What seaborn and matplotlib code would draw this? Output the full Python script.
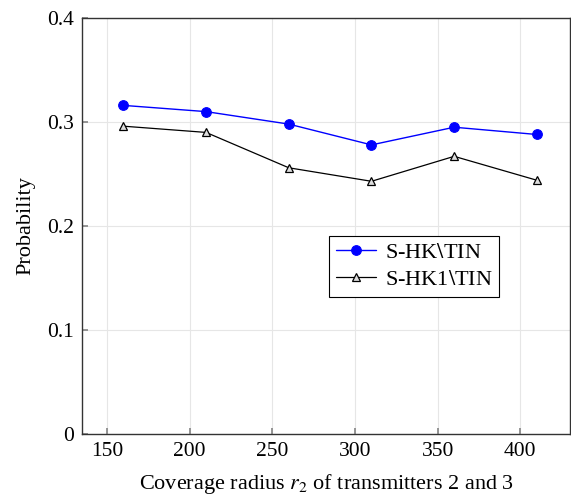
import matplotlib
matplotlib.use("Agg")
import matplotlib.pyplot as plt
import seaborn as sns
import pandas as pd

sns.set_theme(style="ticks")
plt.rcParams['font.family'] = ['Liberation Serif', 'DejaVu Serif']
plt.rcParams['mathtext.fontset'] = 'stix'

radius = [160, 210, 260, 310, 360, 410]
prob_shk = [0.316, 0.310, 0.298, 0.278, 0.295, 0.288]
prob_shk1 = [0.296, 0.290, 0.256, 0.243, 0.267, 0.244]
x_ticks = [150, 200, 250, 300, 350, 400]
y_ticks = [0, 0.1, 0.2, 0.3, 0.4]
y_tick_labels = ['0', '0.1', '0.2', '0.3', '0.4']

df = pd.DataFrame({'radius': radius, 'shk': prob_shk, 'shk1': prob_shk1})

fig = plt.figure(figsize=(5.71, 4.95), dpi=100)
ax = fig.add_axes([0.1436, 0.1232, 0.8546, 0.8404])

sns.lineplot(data=df, x='radius', y='shk', ax=ax, color='blue', marker='o',
             markersize=7, markeredgecolor='blue', linewidth=1,
             label='S-HK$\\backslash$TIN')
sns.lineplot(data=df, x='radius', y='shk1', ax=ax, color='black', marker='^',
             markersize=5.5, markerfacecolor='#dddddd', markeredgecolor='black',
             markeredgewidth=0.9, linewidth=0.9, label='S-HK1$\\backslash$TIN')

ax.set_xlim(135, 430)
ax.set_ylim(0, 0.4)
ax.set_xticks(x_ticks)
ax.set_yticks(y_ticks)
ax.set_yticklabels(y_tick_labels)
ax.grid(True, color='#e6e6e6', linewidth=0.8)
ax.set_axisbelow(True)
ax.tick_params(direction='in', length=4, color='#888888', labelcolor='black',
               labelsize=15.5, pad=6)
for s in ax.spines.values():
    s.set_color('#333333')
    s.set_linewidth(1)

ax.set_xlabel('Coverage radius $r_2$ of transmitters 2 and 3', fontsize=16,
              labelpad=8, color='black')
ax.set_ylabel('Probability', fontsize=16, labelpad=8, color='black')

leg = ax.legend(loc='upper left', bbox_to_anchor=(0.507, 0.477), fontsize=16,
                frameon=True, fancybox=False, edgecolor='black', framealpha=1,
                handlelength=1.8, borderpad=0.3, labelspacing=0.3, handletextpad=0.4,
                borderaxespad=0)
leg.get_frame().set_linewidth(0.8)
for t in leg.get_texts():
    t.set_color('black')

fig.savefig('out.png', dpi=100)
